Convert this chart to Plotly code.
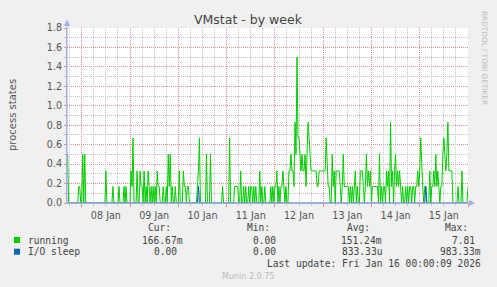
import pandas as pd
import plotly.graph_objects as go

# ---- data (30-minute samples) ----
start_time = "2026-01-07 17:00"
running = [
    0.5,0,0,0,0,0,0,0,0,0,0,0.17,0.17,0,0,0.5,0,0.5,0,0,0,0,0,0,
    0,0,0,0,0,0,0,0,0,0,0,0,0,0,0.33,0,0,0,0,0,0,0.17,0,0,
    0,0,0,0.17,0,0,0,0,0.17,0,0.17,0,0,0,0,0.33,0.17,0.67,0,0,0,0.33,0,0,
    0.33,0.17,0.17,0,0.33,0,0.17,0,0.33,0.17,0,0.17,0,0.17,0,0.17,0,0.33,0.17,0.17,0,0,0,0.17,
    0,0,0.17,0,0.5,0.17,0.5,0,0.17,0,0,0.17,0,0,0,0.33,0,0,0,0.33,0.17,0.17,0,0.17,
    0.17,0,0,0,0,0,0,0,0,0.17,0.33,0.67,0,0,0,0,0,0,0.5,0,0,0,0.5,0,
    0,0,0,0,0,0,0,0,0,0,0.17,0,0,0,0,0,0,0.67,0,0,0,0,0.17,0.17,
    0.17,0.17,0,0,0.33,0,0,0.17,0,0.17,0,0,0.17,0,0.17,0.17,0,0.17,0,0.17,0,0,0,0.33,
    0,0.17,0,0,0.17,0,0,0,0,0,0.17,0,0.17,0,0.17,0.17,0.33,0,0.17,0,0.17,0.17,0.33,0.17,
    0,0.17,0,0,0.33,0.33,0.5,0.33,0.33,0.17,0.83,0.5,1.5,0.67,0.67,0.5,0.33,0.5,0.33,0.33,0.5,0.17,0.5,0.83,
    0.67,0.5,0.33,0.33,0.33,0.33,0.33,0.33,0.17,0.17,0.33,0.33,0.33,0.33,0.33,0.33,0.33,0.67,0.33,0.17,0.17,0,0,0.5,
    0.17,0.33,0,0.33,0.33,0.33,0.33,0.17,0,0.17,0.5,0.17,0.17,0.17,0.17,0.17,0,0.17,0,0.17,0,0.17,0.33,0,
    0.17,0,0,0.33,0.33,0.33,0.17,0,0.17,0.5,0.17,0.33,0.17,0.33,0,0.17,0.17,0.17,0.17,0.17,0.17,0,0.5,0,
    0.17,0,0.17,0.17,0,0.33,0.17,0.33,0,0.83,0.17,0.33,0,0.33,0.5,0.17,0.33,0.17,0.33,0.17,0,0.17,0,0,
    0.17,0,0.17,0,0.17,0.17,0,0.17,0.17,0,0.17,0.17,0.33,0.17,0.33,0.67,0.33,0.17,0,0.17,0.17,0,0,0,
    0.33,0,0.17,0.17,0.33,0.17,0.5,0.17,0.33,0.17,0,0.17,0.17,0.5,0.67,0.5,0.33,0.5,0.83,0.33,0.33,0.33,0.33,0,
    0,0,0,0,0.17,0,0,0,0.33,0,0,0,0,0,0.17,
]
io_sleep = [
    0,0,0,0,0,0,0,0,0,0,0,0,0,0,0,0,0,0,0,0,0,0,0,0,
    0,0,0,0,0,0,0,0,0,0,0,0,0,0,0,0,0,0,0,0,0,0,0,0,
    0,0,0,0,0,0,0,0,0,0,0,0,0,0,0,0,0,0,0,0,0,0,0,0,
    0,0,0,0,0,0,0,0,0,0,0,0,0,0,0,0,0,0,0,0,0,0,0,0,
    0,0,0,0,0,0,0,0,0,0,0,0,0,0,0,0,0,0,0,0,0,0,0,0,
    0,0,0,0,0,0,0,0,0,0,0.17,0,0,0,0,0,0,0,0,0,0,0,0,0,
    0,0,0,0,0,0,0,0,0,0,0,0,0,0,0,0,0,0,0,0,0,0,0,0,
    0,0,0,0,0,0,0,0,0,0,0,0,0,0,0,0,0,0,0,0,0,0,0,0,
    0,0,0,0,0,0,0,0,0,0,0,0,0,0,0,0,0,0,0,0,0,0,0,0,
    0,0,0,0,0,0,0,0,0,0,0,0,0,0,0,0,0,0,0,0,0,0,0,0,
    0,0,0,0,0,0,0,0,0,0,0,0,0,0,0,0,0,0,0,0,0,0,0,0,
    0,0,0,0,0,0,0,0,0,0,0,0,0,0,0,0,0,0,0,0,0,0,0,0,
    0,0,0,0,0,0,0,0,0,0,0,0,0,0,0,0,0,0,0,0,0,0,0,0,
    0,0,0,0,0,0,0,0,0,0,0,0,0,0,0,0,0,0,0,0,0,0,0,0,
    0,0,0,0,0,0,0,0,0,0,0,0,0,0,0,0,0,0,0,0,0.17,0,0,0,
    0,0,0,0,0,0,0,0,0,0,0,0,0,0,0,0,0,0,0,0,0,0,0,0,
    0,0,0,0,0,0,0,0,0,0,0,0,0,0,0,
]
series_names = ["running", "I/O sleep"]
series_colors = ["#00cc00", "#0066b3"]
legend_cur = ["166.67m", "0.00"]
legend_min = ["0.00", "0.00"]
legend_avg = ["151.24m", "833.33u"]
legend_max = ["7.81", "983.33m"]
y_major = [0.0, 0.2, 0.4, 0.6, 0.8, 1.0, 1.2, 1.4, 1.6, 1.8]
y_minor = [0.1, 0.3, 0.5, 0.7, 0.9, 1.1, 1.3, 1.5, 1.7]
x_range = ["2026-01-07 16:40", "2026-01-16 00:00"]
x_major = pd.date_range("2026-01-08", "2026-01-16", freq="1D")
x_minor = [t for t in pd.date_range("2026-01-07 18:00", "2026-01-15 18:00", freq="6h") if t.hour != 0]
title_text = "VMstat - by week"
y_label = "process states"
last_update = "Last update: Fri Jan 16 00:00:09 2026"

times = pd.date_range(start_time, periods=len(running), freq="30min")

# ---- layout geometry (pixels) ----
W, H = 497, 287
L, R, T, B = 67, 29, 28, 84
PW, PH = W - L - R, H - T - B

def px(x):
    return (x - L) / PW

def py(y):
    return (H - B - y) / PH

MONO = "DejaVu Sans Mono"
SANS = "DejaVu Sans"
AXIS = "#a4aee0"
MAJ = "rgb(232,140,140)"
MIN = "rgb(195,195,195)"
DASH = "1px,1px"

fig = go.Figure()
fig.add_trace(go.Scatter(x=times, y=running, mode="lines", name=series_names[0],
                         line=dict(color=series_colors[0], width=1), hoverinfo="skip"))
fig.add_trace(go.Scatter(x=times, y=io_sleep, mode="lines", name=series_names[1],
                         line=dict(color=series_colors[1], width=1), hoverinfo="skip",
                         xaxis="x2", yaxis="y2"))

fig.update_layout(
    width=W, height=H,
    margin=dict(l=L, r=R, t=T, b=B, pad=0),
    paper_bgcolor="#F0F0F0", plot_bgcolor="#FFFFFF",
    showlegend=False,
    font=dict(family=SANS, size=10, color="#555555"),
    xaxis=dict(
        type="date", range=x_range,
        tick0="2026-01-08", dtick=86400000,
        tickformat="%d %b", ticklabelmode="period",
        tickfont=dict(family=SANS, size=9.6, color="#555555"),
        showgrid=True, gridcolor=MAJ, griddash=DASH, gridwidth=1,
        ticks="outside", ticklen=3, tickcolor=MAJ,
        showline=True, linecolor=AXIS, linewidth=1, zeroline=False,
        fixedrange=True,
    ),
    xaxis2=dict(
        type="date", range=x_range, overlaying="x", side="bottom",
        tickvals=x_minor, showticklabels=False,
        showgrid=True, gridcolor=MIN, griddash=DASH, gridwidth=1,
        ticks="outside", ticklen=2, tickcolor=MIN,
        showline=False, zeroline=False, fixedrange=True,
    ),
    yaxis=dict(
        range=[0, 1.8], tickvals=y_major, tickformat=".1f",
        tickfont=dict(family=SANS, size=9.6, color="#555555"),
        showgrid=True, gridcolor=MAJ, griddash=DASH, gridwidth=1,
        ticks="outside", ticklen=2, tickcolor=MAJ,
        showline=True, linecolor=AXIS, linewidth=1, zeroline=False,
        fixedrange=True,
    ),
    yaxis2=dict(
        range=[0, 1.8], overlaying="y", side="left", tickvals=y_minor,
        showticklabels=False,
        showgrid=True, gridcolor=MIN, griddash=DASH, gridwidth=1,
        ticks="outside", ticklen=2, tickcolor=MIN,
        showline=False, zeroline=False, fixedrange=True,
    ),
)

ann = []
ann.append(dict(text=title_text, x=px(248), y=py(19), xref="paper", yref="paper",
                xanchor="center", yanchor="middle",
                showarrow=False, font=dict(family=SANS, size=12.5, color="#444444")))
ann.append(dict(text=y_label, x=px(12), y=py(115), xref="paper", yref="paper",
                xanchor="center", yanchor="middle",
                showarrow=False, textangle=-90,
                font=dict(family=SANS, size=10, color="#555555")))
ann.append(dict(text="RRDTOOL / TOBI OETIKER", x=px(484), y=py(58), xref="paper", yref="paper",
                xanchor="center", yanchor="middle",
                showarrow=False, textangle=90,
                font=dict(family=SANS, size=7.3, color="#bbbbbb")))

def txt(s, x, y, anchor, size=9.6, color="#444444", fam=MONO):
    ann.append(dict(text=s, x=px(x), y=py(y), xref="paper", yref="paper",
                    showarrow=False, xanchor=anchor, yanchor="middle",
                    font=dict(family=fam, size=size, color=color)))

for s, x in zip(["Cur:", "Min:", "Avg:", "Max:"], [172.5, 272, 371.5, 470.5]):
    txt(s, x, 227.7, "right")

row_y = [240, 251.7]
cur_r = [185, 179]
min_r = [278, 278]
avg_r = [384, 384]
max_r = [477, 483]
shapes = []
for k in range(2):
    txt(series_names[k], 26, row_y[k], "left")
    txt(legend_cur[k], cur_r[k], row_y[k], "right")
    txt(legend_min[k], min_r[k], row_y[k], "right")
    txt(legend_avg[k], avg_r[k], row_y[k], "right")
    txt(legend_max[k], max_r[k], row_y[k], "right")
    shapes.append(dict(type="rect", xref="paper", yref="paper",
                       x0=px(14), x1=px(20), y0=py(row_y[k] + 3), y1=py(row_y[k] - 3),
                       fillcolor=series_colors[k], line=dict(width=0)))
txt(last_update, 482.5, 263.3, "right")
txt("Munin 2.0.75", 247.5, 276, "center", size=8, color="#bbbbbb", fam=SANS)

# axis arrows
shapes.append(dict(type="line", xref="paper", yref="paper",
                   x0=px(67), x1=px(67), y0=py(203), y1=py(23),
                   line=dict(color=AXIS, width=1)))
shapes.append(dict(type="path", xref="paper", yref="paper",
                   path=f"M {px(64)},{py(26)} L {px(70)},{py(26)} L {px(67)},{py(19.5)} Z",
                   fillcolor=AXIS, line=dict(width=0)))
shapes.append(dict(type="line", xref="paper", yref="paper",
                   x0=px(67), x1=px(471), y0=py(203), y1=py(203),
                   line=dict(color=AXIS, width=1)))
shapes.append(dict(type="path", xref="paper", yref="paper",
                   path=f"M {px(469)},{py(200)} L {px(469)},{py(206)} L {px(475)},{py(203)} Z",
                   fillcolor=AXIS, line=dict(width=0)))

fig.update_layout(annotations=ann, shapes=shapes)
fig.write_html("out.html")
